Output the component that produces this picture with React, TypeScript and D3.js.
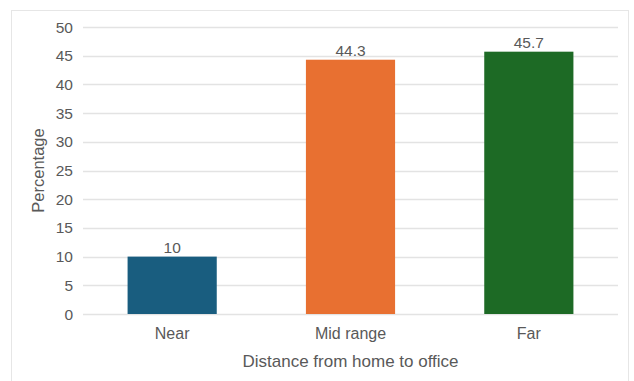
import React from "react";
import * as d3 from "d3";

const categories = ["Near", "Mid range", "Far"];
const values = [10, 44.3, 45.7];
const valueLabels = ["10", "44.3", "45.7"];
const colors = ["#195d7f", "#e87031", "#1d6a25"];
const yTicks = [0, 5, 10, 15, 20, 25, 30, 35, 40, 45, 50];
const xTitle = "Distance from home to office";
const yTitle = "Percentage";

const W = 634;
const H = 381;
const left = 83;
const right = 618;
const top = 27;
const bottom = 314;
const font = "'Liberation Sans', Arial, sans-serif";
const textColor = "#595959";

export default function App() {
  const x = d3.scaleBand<string>().domain(categories).range([left, right]).paddingInner(0.5).paddingOuter(0.25);
  const y = d3.scaleLinear().domain([0, 50]).range([bottom, top]);
  const cx = (left + right) / 2;
  return (
    <svg width={W} height={H} style={{ position: "absolute", left: 0, top: 0, background: "#fff" }}>
      <rect x={11.5} y={10.5} width={617} height={380} fill="#fff" stroke="#e6e6e6" strokeWidth={1} />
      {yTicks.map((t) => (
        <g key={t}>
          <line x1={left} x2={right} y1={Math.round(y(t)) + 0.5} y2={Math.round(y(t)) + 0.5} stroke="#e3e3e3" strokeWidth={1.5} />
          <text x={73} y={y(t)} dy="0.36em" textAnchor="end" fontFamily={font} fontSize={15.5} fill={textColor}>{t}</text>
        </g>
      ))}
      {categories.map((c, i) => (
        <g key={c}>
          <rect x={x(c)} y={y(values[i])} width={x.bandwidth()} height={y(0) - y(values[i])} fill={colors[i]} />
          <text x={(x(c) || 0) + x.bandwidth() / 2} y={y(values[i]) - 4} textAnchor="middle" fontFamily={font} fontSize={15.5} fill={textColor}>{valueLabels[i]}</text>
          <text x={(x(c) || 0) + x.bandwidth() / 2} y={338.5} textAnchor="middle" fontFamily={font} fontSize={16} fill={textColor}>{c}</text>
        </g>
      ))}
      <text x={cx} y={367} textAnchor="middle" fontFamily={font} fontSize={17} fill={textColor}>{xTitle}</text>
      <text transform={`translate(44,${(top + bottom) / 2}) rotate(-90)`} textAnchor="middle" fontFamily={font} fontSize={16.5} fill={textColor}>{yTitle}</text>
    </svg>
  );
}
